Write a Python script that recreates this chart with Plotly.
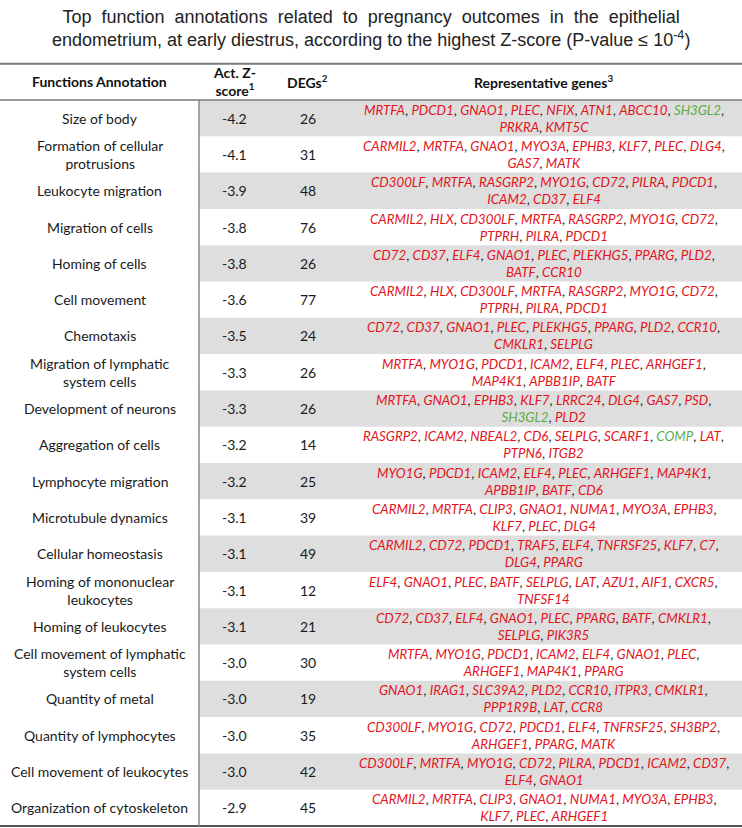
import plotly.graph_objects as go

NB = "\u00a0"
TITLE_LINE1 = ["Top", "function", "annotations", "related", "to", "pregnancy", "outcomes",
               "in", "the", "epithelial"]
TITLE_LINE2 = ("endometrium, at early diestrus, according to the highest Z-score "
               "(P-value ≤ 10<sup>-4</sup>)")

HEADERS = ["<b>Functions Annotation</b>", "<b>Act. Z-<br>score<sup>1</sup></b>",
           "<b>DEGs<sup>2</sup></b>", "<b>Representative genes<sup>3</sup></b>"]

functions = [
    "Size of body", "Formation of cellular<br>protrusions", "Leukocyte migration",
    "Migration of cells", "Homing of cells", "Cell movement", "Chemotaxis",
    "Migration of lymphatic<br>system cells", "Development of neurons", "Aggregation of cells",
    "Lymphocyte migration", "Microtubule dynamics", "Cellular homeostasis",
    "Homing of mononuclear<br>leukocytes", "Homing of leukocytes",
    "Cell movement of lymphatic<br>system cells", "Quantity of metal",
    "Quantity of lymphocytes", "Cell movement of leukocytes", "Organization of cytoskeleton",
]

z_scores = [-4.2, -4.1, -3.9, -3.8, -3.8, -3.6, -3.5, -3.3, -3.3, -3.2,
            -3.2, -3.1, -3.1, -3.1, -3.1, -3.0, -3.0, -3.0, -3.0, -2.9]

degs = [26, 31, 48, 76, 26, 77, 24, 26, 26, 14, 25, 39, 49, 12, 21, 30, 19, 35, 42, 45]

genes = [
    ["MRTFA", "PDCD1", "GNAO1", "PLEC", "NFIX", "ATN1", "ABCC10", "SH3GL2", "PRKRA", "KMT5C"],
    ["CARMIL2", "MRTFA", "GNAO1", "MYO3A", "EPHB3", "KLF7", "PLEC", "DLG4", "GAS7", "MATK"],
    ["CD300LF", "MRTFA", "RASGRP2", "MYO1G", "CD72", "PILRA", "PDCD1", "ICAM2", "CD37", "ELF4"],
    ["CARMIL2", "HLX", "CD300LF", "MRTFA", "RASGRP2", "MYO1G", "CD72", "PTPRH", "PILRA", "PDCD1"],
    ["CD72", "CD37", "ELF4", "GNAO1", "PLEC", "PLEKHG5", "PPARG", "PLD2", "BATF", "CCR10"],
    ["CARMIL2", "HLX", "CD300LF", "MRTFA", "RASGRP2", "MYO1G", "CD72", "PTPRH", "PILRA", "PDCD1"],
    ["CD72", "CD37", "GNAO1", "PLEC", "PLEKHG5", "PPARG", "PLD2", "CCR10", "CMKLR1", "SELPLG"],
    ["MRTFA", "MYO1G", "PDCD1", "ICAM2", "ELF4", "PLEC", "ARHGEF1", "MAP4K1", "APBB1IP", "BATF"],
    ["MRTFA", "GNAO1", "EPHB3", "KLF7", "LRRC24", "DLG4", "GAS7", "PSD", "SH3GL2", "PLD2"],
    ["RASGRP2", "ICAM2", "NBEAL2", "CD6", "SELPLG", "SCARF1", "COMP", "LAT", "PTPN6", "ITGB2"],
    ["MYO1G", "PDCD1", "ICAM2", "ELF4", "PLEC", "ARHGEF1", "MAP4K1", "APBB1IP", "BATF", "CD6"],
    ["CARMIL2", "MRTFA", "CLIP3", "GNAO1", "NUMA1", "MYO3A", "EPHB3", "KLF7", "PLEC", "DLG4"],
    ["CARMIL2", "CD72", "PDCD1", "TRAF5", "ELF4", "TNFRSF25", "KLF7", "C7", "DLG4", "PPARG"],
    ["ELF4", "GNAO1", "PLEC", "BATF", "SELPLG", "LAT", "AZU1", "AIF1", "CXCR5", "TNFSF14"],
    ["CD72", "CD37", "ELF4", "GNAO1", "PLEC", "PPARG", "BATF", "CMKLR1", "SELPLG", "PIK3R5"],
    ["MRTFA", "MYO1G", "PDCD1", "ICAM2", "ELF4", "GNAO1", "PLEC", "ARHGEF1", "MAP4K1", "PPARG"],
    ["GNAO1", "IRAG1", "SLC39A2", "PLD2", "CCR10", "ITPR3", "CMKLR1", "PPP1R9B", "LAT", "CCR8"],
    ["CD300LF", "MYO1G", "CD72", "PDCD1", "ELF4", "TNFRSF25", "SH3BP2", "ARHGEF1", "PPARG", "MATK"],
    ["CD300LF", "MRTFA", "MYO1G", "CD72", "PILRA", "PDCD1", "ICAM2", "CD37", "ELF4", "GNAO1"],
    ["CARMIL2", "MRTFA", "CLIP3", "GNAO1", "NUMA1", "MYO3A", "EPHB3", "KLF7", "PLEC", "ARHGEF1"],
]
# number of genes on the first printed line of each cell
first_line_counts = [8, 8, 7, 7, 8, 7, 8, 7, 8, 8, 7, 7, 8, 9, 8, 7, 7, 7, 8, 7]

up_regulated = {"SH3GL2", "COMP"}

RED = "#e3131b"
GREEN = "#5aac44"
TEXT = "#1a1a1a"
SHADE = "#dedede"
RULE = "#7a7a7a"

COL_EDGES = [0, 199, 270, 345, 742]
col_centers = [(COL_EDGES[i] + COL_EDGES[i + 1]) / 2 for i in range(4)]

n = len(functions)
row_px = 36.3
top_px = 100.0
y_top = -0.5 - top_px / row_px
y_bot = n - 0.5 + (828 - top_px - n * row_px) / row_px


def gene_html(g):
    c = GREEN if g in up_regulated else RED
    return f"<i><span style='color:{c}'>{g}</span></i>"


def gene_cell(lst, k):
    l1 = ", ".join(gene_html(g) for g in lst[:k]) + ","
    l2 = ", ".join(gene_html(g) for g in lst[k:])
    return l1 + "<br>" + l2


fig = go.Figure()
fig.add_trace(go.Scatter(x=[0, 742], y=[0, 0], mode="markers",
                         marker=dict(opacity=0), hoverinfo="skip", showlegend=False))

shapes = []
for i in range(n):
    if i % 2 == 0:
        shapes.append(dict(type="rect", xref="x", yref="y", x0=COL_EDGES[1], x1=COL_EDGES[-1],
                           y0=i - 0.5, y1=i + 0.5, fillcolor=SHADE, line=dict(width=0),
                           layer="below"))
shapes += [
    dict(type="line", xref="x", yref="y", x0=0, x1=742, y0=-1.5, y1=-1.5,
         line=dict(color=RULE, width=2)),
    dict(type="line", xref="x", yref="y", x0=0, x1=742, y0=-0.5, y1=-0.5,
         line=dict(color=RULE, width=1.5)),
    dict(type="line", xref="x", yref="y", x0=0, x1=742, y0=n - 0.5, y1=n - 0.5,
         line=dict(color="#555555", width=2)),
    dict(type="line", xref="x", yref="y", x0=COL_EDGES[1], x1=COL_EDGES[1], y0=-0.5, y1=n - 0.5,
         line=dict(color="#8a8a8a", width=1.5)),
]

FONT = "Lato"
FS = 14
GFS = 13.3
ann = []
for j, h in enumerate(HEADERS):
    ann.append(dict(x=col_centers[j], y=-1, xref="x", yref="y", text=h, showarrow=False,
                    font=dict(family=FONT, size=FS, color="#111111"), align="center"))
for i in range(n):
    vals = [functions[i], f"{z_scores[i]:.1f}", str(degs[i])]
    for j, v in enumerate(vals):
        ann.append(dict(x=col_centers[j], y=i, xref="x", yref="y", text=v, showarrow=False,
                        font=dict(family=FONT, size=FS, color=TEXT), align="center"))
    ann.append(dict(x=col_centers[3], y=i, xref="x", yref="y",
                    text=gene_cell(genes[i], first_line_counts[i]), showarrow=False,
                    font=dict(family=FONT, size=GFS, color=TEXT), align="center"))

title = (" " + NB).join(TITLE_LINE1) + "<br>" + TITLE_LINE2
ann.append(dict(x=0.5, y=1 - 28 / 828, xref="paper", yref="paper", text=title, showarrow=False,
                font=dict(family="Liberation Sans", size=18, color="#222222"), align="center",
                yanchor="middle"))

fig.update_layout(
    width=742, height=828, margin=dict(l=0, r=0, t=0, b=0),
    paper_bgcolor="white", plot_bgcolor="white",
    xaxis=dict(range=[0, 742], visible=False, fixedrange=True),
    yaxis=dict(range=[y_bot, y_top], visible=False, fixedrange=True),
    shapes=shapes, annotations=ann, showlegend=False,
)

POST = (
    "document.documentElement.style.overflow='hidden';"
    "document.body.style.margin='0';document.body.style.overflow='hidden';"
    "var gd=document.getElementById('{plot_id}');"
    "gd.style.position='fixed';gd.style.left='0px';gd.style.top='0px';"
)

fig.write_html("out.html", config={"displayModeBar": False}, post_script=POST)
